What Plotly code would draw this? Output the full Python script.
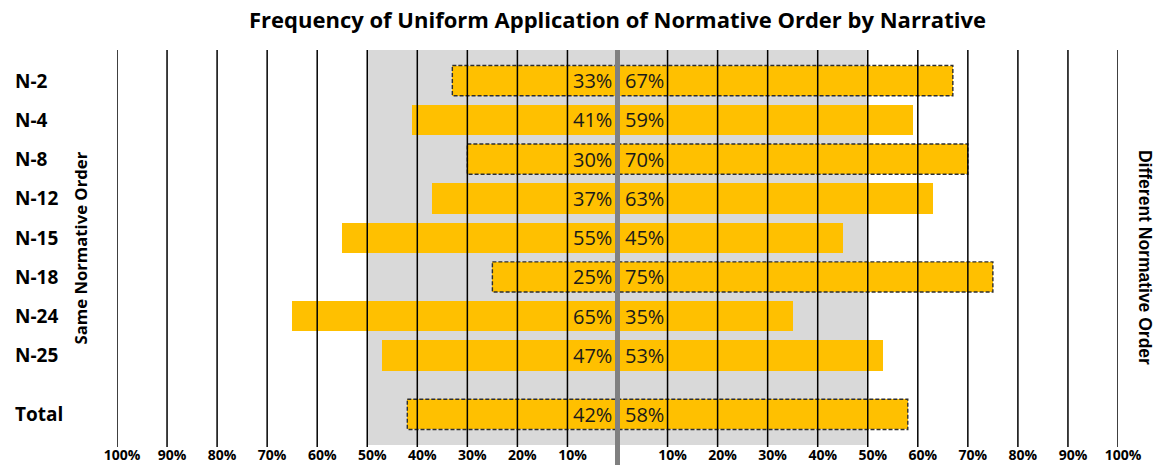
import plotly.graph_objects as go

# ---- data ----
narratives = ["N-2", "N-4", "N-8", "N-12", "N-15", "N-18", "N-24", "N-25", "Total"]
same_order = [33, 41, 30, 37, 55, 25, 65, 47, 42]
different_order = [67, 59, 70, 63, 45, 75, 35, 53, 58]
outlined = [True, False, True, False, False, True, False, False, True]
tick_values = [-100, -90, -80, -70, -60, -50, -40, -30, -20, -10,
               10, 20, 30, 40, 50, 60, 70, 80, 90, 100]
tick_labels = ["100%", "90%", "80%", "70%", "60%", "50%", "40%", "30%", "20%", "10%",
               "10%", "20%", "30%", "40%", "50%", "60%", "70%", "80%", "90%", "100%"]

# ---- layout helpers ----
GAP_BEFORE_TOTAL = 0.5
rows = [i if n != "Total" else i + GAP_BEFORE_TOTAL for i, n in enumerate(narratives)]
BAR_W = 0.77
YELLOW = "#FFC000"
FONT = "Open Sans"

fig = go.Figure()
fig.add_trace(go.Bar(orientation="h", y=rows, x=[-v for v in same_order], width=BAR_W,
                     marker=dict(color=YELLOW, line=dict(width=0)), hoverinfo="skip",
                     showlegend=False))
fig.add_trace(go.Bar(orientation="h", y=rows, x=different_order, width=BAR_W,
                     marker=dict(color=YELLOW, line=dict(width=0)), hoverinfo="skip",
                     showlegend=False))

h = BAR_W / 2
for p, s, d, o in zip(rows, same_order, different_order, outlined):
    if o:
        fig.add_trace(go.Scatter(x=[-s, d, d, -s, -s], y=[p - h, p - h, p + h, p + h, p - h],
                                 mode="lines", line=dict(color="#2e2e2e", width=1.4, dash="4px,2px"),
                                 hoverinfo="skip", showlegend=False))

shapes = []
# shaded band
shapes.append(dict(type="rect", xref="x", yref="paper", x0=-50, x1=50, y0=0, y1=1,
                   fillcolor="#D9D9D9", line=dict(width=0), layer="below"))
# gridlines above bars
for t in tick_values:
    shapes.append(dict(type="line", xref="x", yref="paper", x0=t, x1=t, y0=-0.005, y1=1,
                       line=dict(color="black", width=1.5), layer="above"))
# centre line
shapes.append(dict(type="line", xref="x", yref="paper", x0=0, x1=0, y0=-0.06, y1=1,
                   line=dict(color="#808080", width=5), layer="above"))

annotations = []
for p, n, s, d in zip(rows, narratives, same_order, different_order):
    annotations.append(dict(xref="paper", yref="y", x=-0.104, y=p, text=f"<b>{n}</b>",
                            showarrow=False, xanchor="left", yanchor="middle",
                            font=dict(family=FONT, size=19, color="black")))
    annotations.append(dict(xref="x", yref="y", x=0, y=p, text=f"{s}%", showarrow=False,
                            xanchor="right", yanchor="middle", xshift=-4,
                            font=dict(family=FONT, size=20, color="#1a1a1a")))
    annotations.append(dict(xref="x", yref="y", x=0, y=p, text=f"{d}%", showarrow=False,
                            xanchor="left", yanchor="middle", xshift=5,
                            font=dict(family=FONT, size=20, color="#1a1a1a")))

annotations.append(dict(xref="paper", yref="paper", x=-0.036, y=0.5, text="<b>Same Normative Order</b>",
                        textangle=-90, showarrow=False, xanchor="center", yanchor="middle",
                        font=dict(family=FONT, size=16.7, color="black")))
annotations.append(dict(xref="paper", yref="paper", x=1.027, y=0.476, text="<b>Different Normative Order</b>",
                        textangle=90, showarrow=False, xanchor="center", yanchor="middle",
                        font=dict(family="Liberation Sans", size=17.5, color="black")))

fig.update_layout(
    width=1157, height=465,
    margin=dict(l=117, r=39, t=50, b=20),
    paper_bgcolor="white", plot_bgcolor="white",
    barmode="overlay", bargap=0,
    title=dict(text="<b>Frequency of Uniform Application of Normative Order by Narrative</b>",
               x=0.5, xref="paper", xanchor="center", y=0.957, yref="container", yanchor="middle",
               font=dict(family=FONT, size=22, color="black")),
    xaxis=dict(range=[-100, 100], tickvals=tick_values,
               ticktext=[f"<b>{t}</b>" for t in tick_labels],
               showgrid=False, zeroline=False, showline=False, ticks="",
               tickfont=dict(family=FONT, size=14, color="black"), automargin=False,
               ticklabelshift=5, fixedrange=True),
    yaxis=dict(range=[rows[-1] + 0.78, -0.78], showticklabels=False, showgrid=False,
               zeroline=False, showline=False, automargin=False, fixedrange=True),
    shapes=shapes, annotations=annotations,
)

# remove the browser's default body margin so the figure fills the window exactly
fig.write_html("out.html", config={"displayModeBar": False, "staticPlot": True},
               post_script="document.body.style.margin='0';")
